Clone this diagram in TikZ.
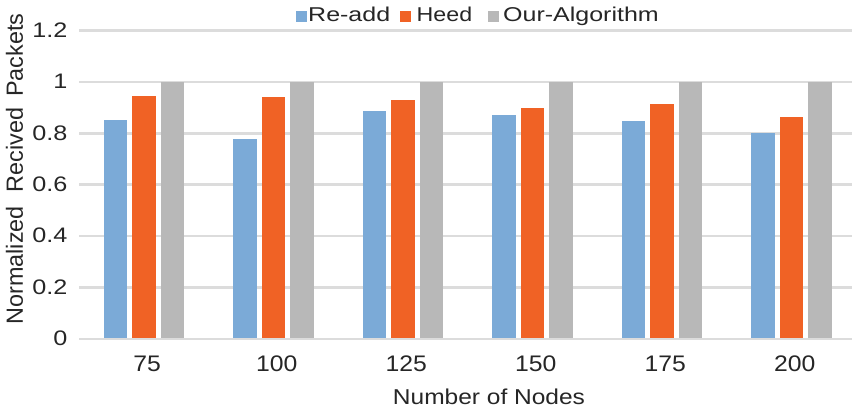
\documentclass[tikz,border=0pt]{standalone}
\usepackage{fontspec}
\setmainfont{Liberation Sans}
\usepackage{graphicx}
\definecolor{readd}{HTML}{7BAAD7}
\definecolor{heed}{HTML}{F06225}
\definecolor{ours}{HTML}{B8B8B8}
\definecolor{gridc}{HTML}{DCDCDC}
\definecolor{ink}{HTML}{262626}
% font size, horizontal stretch, text
\newcommand\txt[3]{{\fontsize{#1}{#1}\selectfont\scalebox{#2}[1]{#3}}}
\begin{document}
\begin{tikzpicture}[x=1pt,y=-1pt,
  gridline/.style={draw=gridc,line width=2.6pt},
  lab/.style={inner sep=0pt,text=ink}]
\useasboundingbox (0,0) rectangle (852,411);
\fill[white] (0,0) rectangle (852,411);
% horizontal grid and y tick labels
\foreach \v/\t [count=\k] in {0.2/0.2,0.4/0.4,0.6/0.6,0.8/0.8,1/1,1.2/1.2}{
  \coordinate (gl\k) at (79,{339-257*\v});
  \coordinate (gr\k) at (852,{339-257*\v});
  \draw[gridline] (gl\k) -- (gr\k);
  \node[lab,anchor=base east] (yt\k) at (67.5,{339-257*\v+6.7}) {\txt{21}{1.2}{\t}};
}
\node[lab,anchor=base east] (yt0) at (67.5,345.7) {\txt{21}{1.2}{0}};
% bars: group centre / Re-add / Heed / Our-Algorithm, with category label
\foreach \c/\a/\b/\n [count=\i] in {143.75/0.853/0.947/75,273.25/0.778/0.942/100,402.75/0.887/0.930/125,532.25/0.872/0.899/150,661.75/0.848/0.914/175,791.25/0.800/0.864/200}{
  \fill[readd] ({\c-28.5-11.75},339) rectangle ({\c-28.5+11.75},{339-257*\a});
  \fill[heed]  ({\c-11.75},339) rectangle ({\c+11.75},{339-257*\b});
  \fill[ours]  ({\c+28.5-11.75},339) rectangle ({\c+28.5+11.75},{339-257});
  \node[lab,anchor=base] (xt\i) at ({\c+3.5},372) {\txt{22.5}{1.1}{\n}};
}
% category axis
\coordinate (al) at (79,339);
\coordinate (ar) at (852,339);
\draw[gridline] (al) -- (ar);
% axis titles
\node[lab,anchor=base] (xtitle) at (489,405) {\txt{21.5}{1.14}{Number of Nodes}};
\node[lab,anchor=base,rotate=90] (ytitle) at (23,169)
  {\fontsize{23.4}{23.4}\selectfont Normalized\hspace{14pt}Recived\hspace{11pt}Packets};
% legend
\fill[readd] (296,11) rectangle (307,22);
\node[lab,anchor=base west] (lg1) at (308,22) {\txt{20}{1.25}{Re-add}};
\fill[heed] (400,11) rectangle (411,22);
\node[lab,anchor=base west] (lg2) at (416.5,22) {\txt{20}{1.16}{Heed}};
\fill[ours] (488,11) rectangle (499,22);
\node[lab,anchor=base west] (lg3) at (503,22) {\txt{20}{1.25}{Our-Algorithm}};
\end{tikzpicture}
\end{document}
